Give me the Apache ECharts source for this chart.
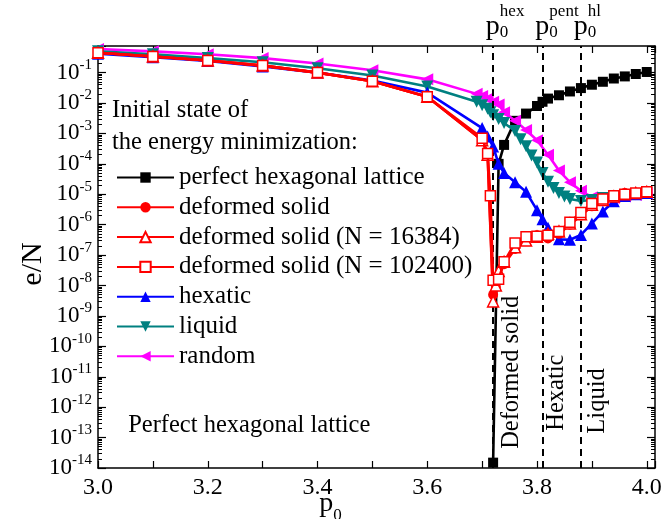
<!DOCTYPE html>
<html>
<head>
<meta charset="utf-8">
<script src="https://cdn.jsdelivr.net/npm/echarts@6/dist/echarts.min.js"></script>
<style>
  html, body { margin: 0; padding: 0; background: #fff; }
  #chart { width: 663px; height: 519px; }
</style>
</head>
<body>
<div id="chart"></div>
<script>
const FONT = 'Liberation Serif'

// perfect hexagonal lattice
const xHex = [3.72, 3.73, 3.74, 3.76, 3.78, 3.80, 3.81, 3.82, 3.84, 3.86, 3.88, 3.90, 3.92, 3.94, 3.96, 3.98, 4.00]
const yHex = [1.5e-14, 1e-4, 4.2e-4, 2.6e-3, 4.5e-3, 8e-3, 1.1e-2, 1.4e-2, 1.8e-2, 2.4e-2, 3.1e-2, 4.0e-2, 5.0e-2, 6.4e-2, 7.5e-2, 9.0e-2, 0.105]

// deformed solid (three system sizes)
const xDef = [3.0, 3.1, 3.2, 3.3, 3.4, 3.5, 3.6, 3.7, 3.71, 3.72, 3.725, 3.73, 3.74, 3.76, 3.78, 3.80, 3.82, 3.84, 3.86, 3.88, 3.90, 3.92, 3.94, 3.96, 3.98, 4.00]
const yDef = [0.45, 0.34, 0.25, 0.17, 0.10, 0.052, 0.016, 6e-4, 2e-4, 5e-9, 9e-9, 2e-8, 5e-8, 1.6e-7, 3.5e-7, 4.5e-7, 3.5e-7, 5e-7, 1e-6, 2e-6, 4e-6, 6e-6, 8e-6, 1.1e-5, 1e-5, 1.2e-5]
const yDef16k = [0.45, 0.34, 0.25, 0.17, 0.10, 0.052, 0.016, 6e-4, 2e-4, 3e-9, 1e-8, 3e-8, 6e-8, 1.8e-7, 3e-7, 4e-7, 5e-7, 6e-7, 1.1e-6, 2.2e-6, 4.5e-6, 6.5e-6, 8.5e-6, 1e-5, 1.1e-5, 1.2e-5]
const xDef100k = [3.0, 3.1, 3.2, 3.3, 3.4, 3.5, 3.6, 3.7, 3.71, 3.715, 3.72, 3.73, 3.74, 3.76, 3.78, 3.80, 3.82, 3.84, 3.86, 3.88, 3.90, 3.92, 3.94, 3.96, 3.98, 4.00]
const yDef100k = [0.45, 0.34, 0.25, 0.17, 0.10, 0.052, 0.016, 7e-4, 2.2e-4, 9e-6, 1.5e-8, 1.6e-8, 6e-8, 2.5e-7, 4e-7, 4.2e-7, 4.5e-7, 6e-7, 1.2e-6, 2.5e-6, 5e-6, 7e-6, 9e-6, 1e-5, 1.1e-5, 1.2e-5]

// hexatic
const xHexatic = [3.0, 3.1, 3.2, 3.3, 3.4, 3.5, 3.6, 3.7, 3.71, 3.72, 3.73, 3.74, 3.76, 3.78, 3.80, 3.81, 3.82, 3.84, 3.86, 3.88, 3.90, 3.92, 3.94, 3.96, 3.98, 4.00]
const yHexatic = [0.42, 0.32, 0.24, 0.16, 0.10, 0.055, 0.022, 1.5e-3, 8e-4, 3.7e-4, 1e-4, 5e-5, 2.5e-5, 1.2e-5, 3e-6, 1.5e-6, 8e-7, 3.3e-7, 3.2e-7, 4.6e-7, 1.1e-6, 2.7e-6, 5.9e-6, 8.8e-6, 1e-5, 1.1e-5]

// liquid
const xLiquid = [3.0, 3.1, 3.2, 3.3, 3.4, 3.5, 3.6, 3.69, 3.70, 3.71, 3.715, 3.72, 3.73, 3.74, 3.76, 3.77, 3.78, 3.79, 3.80, 3.81, 3.82, 3.83, 3.84, 3.85, 3.86, 3.88, 3.90, 3.92, 3.94, 3.96, 3.98, 4.00]
const yLiquid = [0.5, 0.4, 0.3, 0.22, 0.14, 0.08, 0.035, 0.011, 8.5e-3, 6.5e-3, 5e-3, 4e-3, 3e-3, 2.2e-3, 1.2e-3, 6.5e-4, 3.8e-4, 1.9e-4, 1.1e-4, 5e-5, 2.6e-5, 1.6e-5, 1.1e-5, 8.5e-6, 7e-6, 6e-6, 6.5e-6, 7.5e-6, 8.5e-6, 9.5e-6, 1e-5, 1.1e-5]

// random
const xRandom = [3.0, 3.1, 3.2, 3.3, 3.4, 3.5, 3.6, 3.69, 3.70, 3.71, 3.72, 3.73, 3.74, 3.76, 3.78, 3.80, 3.82, 3.84, 3.86, 3.88, 3.90, 3.92, 3.94, 3.96, 3.98, 4.00]
const yRandom = [0.6, 0.5, 0.4, 0.3, 0.2, 0.12, 0.06, 0.02, 0.017, 0.014, 0.011, 9e-3, 5e-3, 2.6e-3, 1.3e-3, 6e-4, 2e-4, 6e-5, 2.5e-5, 1.3e-5, 8e-6, 7e-6, 7.5e-6, 8.5e-6, 9.5e-6, 1.05e-5]

// transition points and phase labels
const transitions = [
  { p: 3.7224, sup: 'hex', supW: 24 },
  { p: 3.81, sup: 'pent', supW: 29 },
  { p: 3.8816, sup: 'hl', supW: 13 },
]
const regionLabels = [
  { text: 'Deformed solid', p: 3.754, e: 1.4e-11 },
  { text: 'Hexatic', p: 3.836, e: 3e-12 },
  { text: 'Liquid', p: 3.911, e: 1.6e-12 },
]

const pairs = (xs, ys) => xs.map((x, i) => [x, ys[i]])

const chart = echarts.init(document.getElementById('chart'))

const mk = (name, xs, ys, color, symbol, opts = {}) => ({
  name,
  type: 'line',
  data: pairs(xs, ys),
  symbol,
  symbolSize: opts.size || 10,
  symbolRotate: opts.rotate || 0,
  z: opts.z || 2,
  lineStyle: { color, width: 2.6 },
  itemStyle: opts.hollow
    ? { color: '#fff', borderColor: color, borderWidth: 1.5 }
    : { color, borderWidth: 0 },
  emphasis: { disabled: true },
  animation: false,
})

const black = mk('perfect hexagonal lattice', xHex, yHex, '#000', 'rect', { size: 10, z: 2 })
black.markLine = {
  silent: true,
  symbol: 'none',
  lineStyle: { color: '#000', width: 2, type: [7, 5] },
  data: transitions.map((t) => ({
    xAxis: t.p,
    label: {
      show: true,
      position: 'end',
      verticalAlign: 'middle',
      distance: 20,
      padding: [0, 0, 0, t.supW],
      formatter: '{sp|}{u|' + t.sup + '}\n{p|p}{s|0}',
      rich: {
        sp: { width: 14, lineHeight: 2, align: 'left' },
        u: { fontFamily: FONT, fontSize: 17, lineHeight: 2, color: '#000', align: 'left' },
        p: { fontFamily: FONT, fontSize: 28, lineHeight: 10, verticalAlign: 'top', color: '#000', align: 'left' },
        s: { fontFamily: FONT, fontSize: 17, lineHeight: 28, verticalAlign: 'bottom', color: '#000', align: 'left' },
      },
    },
  })),
}
black.markPoint = {
  silent: true,
  symbolSize: 0,
  itemStyle: { color: 'transparent' },
  label: { show: true, position: 'inside', fontFamily: FONT, fontSize: 24.5, color: '#000' },
  data: [
    ...regionLabels.map((r) => ({
      coord: [r.p, r.e],
      label: { formatter: r.text, rotate: 90 },
    })),
    {
      coord: [3.055, 2.5e-13],
      label: { formatter: 'Perfect hexagonal lattice', align: 'left' },
    },
  ],
}

const series = [
  black,
  mk('deformed solid', xDef, yDef, '#ff0000', 'circle', { size: 10, z: 6 }),
  mk('deformed solid (N = 16384)', xDef, yDef16k, '#ff0000', 'triangle', { size: 11, hollow: true, z: 7 }),
  mk('deformed solid (N = 102400)', xDef100k, yDef100k, '#ff0000', 'rect', { size: 10, hollow: true, z: 8 }),
  mk('hexatic', xHexatic, yHexatic, '#0000ff', 'triangle', { size: 12, z: 5 }),
  mk('liquid', xLiquid, yLiquid, '#008080', 'triangle', { size: 12, rotate: 180, z: 4 }),
  mk('random', xRandom, yRandom, '#ff00ff', 'triangle', { size: 12, rotate: 90, z: 3 }),
]

const axisLine = { show: true, onZero: false, lineStyle: { color: '#000', width: 1.5 } }

const xBase = {
  type: 'value',
  min: 3.0,
  max: 4.015,
  interval: 0.1,
  axisLine,
  splitLine: { show: false },
  axisTick: { show: true, inside: true, length: 7, lineStyle: { color: '#000', width: 1.2 } },
}

const yBase = {
  type: 'log',
  logBase: 10,
  min: 1e-14,
  max: 0.75,
  interval: 1,
  axisLine,
  splitLine: { show: false },
  axisTick: { show: true, inside: true, length: 8, lineStyle: { color: '#000', width: 1.2 } },
  minorTick: { show: true, splitNumber: 9, length: 4, lineStyle: { color: '#000', width: 1 } },
}

const option = {
  backgroundColor: '#fff',
  animation: false,
  title: {
    text: 'Initial state of\nthe energy minimization:',
    left: 112,
    top: 95,
    padding: 0,
    textStyle: { fontFamily: FONT, fontSize: 24.5, fontWeight: 'normal', lineHeight: 32, color: '#000' },
  },
  legend: {
    orient: 'vertical',
    left: 116,
    top: 165,
    padding: 0,
    itemWidth: 57,
    itemHeight: 13,
    itemGap: 4.8,
    selectedMode: false,
    textStyle: { fontFamily: FONT, fontSize: 25, color: '#000' },
    data: series.map((s) => s.name),
  },
  grid: { left: 98, right: 8, top: 46, bottom: 51, outerBoundsMode: 'none', containLabel: false },
  xAxis: [
    {
      ...xBase,
      position: 'bottom',
      name: '{p|p}{s|0}',
      nameLocation: 'middle',
      nameGap: 22,
      nameMoveOverlap: false,
      nameTextStyle: {
        padding: [0, 92, 0, 0],
        rich: {
          p: { fontFamily: FONT, fontSize: 28, lineHeight: 34, verticalAlign: 'top', color: '#000' },
          s: { fontFamily: FONT, fontSize: 17, lineHeight: 14, verticalAlign: 'bottom', color: '#000' },
        },
      },
      axisLabel: {
        margin: 8,
        fontFamily: FONT,
        fontSize: 24,
        color: '#000',
        formatter: (v) => {
          const t = Math.round(v * 10)
          if (Math.abs(v * 10 - t) > 1e-6 || t % 2 !== 0) return ''
          return (t / 10).toFixed(1)
        },
      },
    },
    { ...xBase, position: 'top', axisLabel: { show: false } },
  ],
  yAxis: [
    {
      ...yBase,
      position: 'left',
      name: 'e/N',
      nameLocation: 'middle',
      nameGap: 50,
      nameMoveOverlap: false,
      nameTextStyle: { fontFamily: FONT, fontSize: 30, color: '#000', padding: [0, 14, 0, 0] },
      axisLabel: {
        margin: 6,
        formatter: (v) => {
          const l = Math.log10(v)
          const e = Math.round(l)
          if (Math.abs(l - e) > 1e-6 || e === 0) return ''
          return '{b|10}{s|' + e + '}'
        },
        rich: {
          b: { fontFamily: FONT, fontSize: 23, lineHeight: 30, color: '#000' },
          s: { fontFamily: FONT, fontSize: 15, lineHeight: 12, verticalAlign: 'top', color: '#000' },
        },
      },
    },
    { ...yBase, position: 'right', axisLabel: { show: false } },
  ],
  series,
}

chart.setOption(option)
</script>
</body>
</html>
